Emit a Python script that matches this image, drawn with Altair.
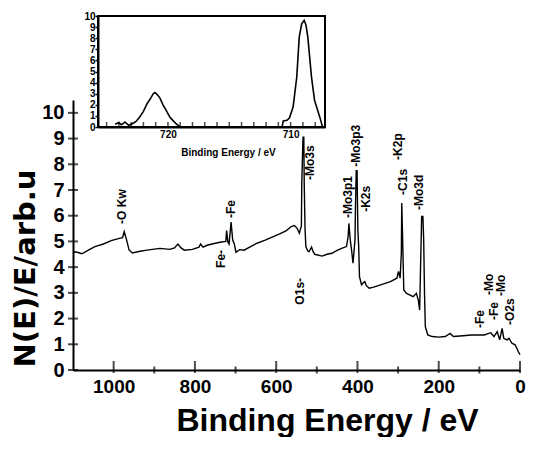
import altair as alt
import pandas as pd

# ---------------- data ----------------
spec_x = [1100, 1094, 1078, 1060, 1046, 1025, 1006, 986, 978, 974, 968, 962, 954, 935, 918, 900, 886, 862, 850, 842,
          834, 826, 806, 790, 786, 780, 770, 750, 735, 724, 722, 719, 716, 711, 707, 703, 699, 690, 679, 663,
          647, 627, 607, 590, 575, 563, 555, 548, 543, 538, 537, 534, 532, 531, 529, 527, 522, 519, 513, 509,
          505, 487, 475, 463, 450, 439, 427, 423, 421, 418, 414, 411, 408, 406, 405, 403, 401, 399, 397, 395,
          390, 385, 382, 378, 371, 360, 343, 330, 319, 303, 299, 295, 292, 291, 288, 286, 279, 263, 255, 250,
          247, 244, 242, 239, 237, 235, 233, 227, 216, 200, 184, 172, 164, 140, 120, 88, 72, 64, 56, 50,
          44, 40, 32, 27, 20, 12, 4, 0]
spec_y = [4.55, 4.6, 4.52, 4.68, 4.8, 4.9, 5.03, 5.12, 5.15, 5.38, 5.05, 4.67, 4.55, 4.62, 4.66, 4.7, 4.73, 4.69, 4.75, 4.9,
          4.75, 4.66, 4.69, 4.78, 4.9, 4.78, 4.85, 4.93, 4.98, 5.0, 5.42, 4.98, 4.9, 5.75, 5.05, 4.9, 4.58, 4.68, 4.66, 4.8,
          4.93, 5.05, 5.19, 5.3, 5.42, 5.58, 5.62, 5.5, 5.32, 5.6, 7.26, 9.05, 9.05, 7.26, 5.5, 4.8, 4.62, 4.6, 4.78, 4.6,
          4.5, 4.43, 4.5, 4.54, 4.65, 4.73, 4.8, 5.19, 5.7, 5.1, 4.6, 4.15, 4.7, 5.06, 6.23, 7.75, 7.75, 5.45, 4.8, 3.63,
          3.31, 3.4, 3.44, 3.28, 3.18, 3.22, 3.31, 3.38, 3.44, 3.57, 3.83, 3.57, 4.54, 6.49, 4.54, 3.11, 2.98, 2.85, 2.98, 2.7,
          2.33, 4.5, 5.97, 5.97, 5.06, 3.0, 1.69, 1.36, 1.3, 1.28, 1.3, 1.42, 1.3, 1.33, 1.36, 1.36, 1.45, 1.3, 1.49, 1.17,
          1.62, 1.23, 1.17, 1.23, 1.04, 0.98, 0.71, 0.6]

inset_x = [724.3, 724.0, 723.8, 723.5, 723.2, 722.9, 722.6, 722.3, 722.0, 721.7, 721.4, 721.2, 721.06, 720.85, 720.65,
           720.4, 720.1, 719.85, 719.6, 719.3, 719.0, 718.5, 711.0, 710.7, 710.6, 710.3, 710.1, 709.8, 709.5, 709.3,
           709.1, 708.9, 708.75, 708.6, 708.45, 708.3, 708.05, 707.8, 707.6, 707.4]
inset_y = [0.25, 0.4, 0.2, 0.45, 0.15, 0.3, 0.5, 0.9, 1.4, 2.1, 2.6, 3.0, 3.1, 2.9, 2.6,
           2.0, 1.4, 0.9, 0.6, 0.25, 0.0, 0.0, 0.0, 0.0, 0.55, 0.6, 0.8, 1.8, 4.5, 8.1,
           9.3, 9.6, 9.2, 8.1, 6.3, 4.5, 2.4, 1.5, 0.8, 0.0]

up_text = ["-O Kw", "-Fe", "-Mo3s", "-Mo3p1", "-Mo3p3", "-K2s", "-K2p", "-C1s", "-Mo3d",
           "-Fe", "-Mo", "-Fe", "-Mo", "-O2s"]
up_x = [980, 710, 517, 424, 404, 378, 301, 289, 248, 99, 77, 63, 46, 24]
up_y = [5.68, 5.91, 7.39, 5.91, 7.9, 6.15, 8.17, 6.81, 6.22, 1.63, 2.92, 1.94, 2.88, 1.75]
down_text = ["Fe-", "O1s-"]
down_x = [737, 542]
down_y = [4.67, 3.58]

y_ticks = list(range(0, 11))
x_major = [1000, 800, 600, 400, 200, 0]
x_minor = [900, 700, 500, 300, 100]
main_x_domain = [0, 1100]
main_y_domain = [0, 10.5]
inset_x_domain = [707.2, 725.7]
inset_y_domain = [0, 10]
inset_labels = [720, 710]
inset_ticks = list(range(708, 726))

# ---------------- frames ----------------
main_df = pd.DataFrame({"be": spec_x, "n": spec_y, "i": range(len(spec_x))})
inset_df = pd.DataFrame({"be": inset_x, "n": inset_y, "i": range(len(inset_x))})
up_df = pd.DataFrame({"t": up_text, "be": up_x, "n": up_y})
down_df = pd.DataFrame({"t": down_text, "be": down_x, "n": down_y})
xmaj_df = pd.DataFrame({"be": x_major})
xmin_df = pd.DataFrame({"be": x_minor})
yt_df = pd.DataFrame({"n": y_ticks})
it_df = pd.DataFrame({"be": inset_ticks})
frame_df = pd.DataFrame({"be": [inset_x_domain[1]], "b": [inset_x_domain[0]],
                         "n": [inset_y_domain[0]], "d": [inset_y_domain[1]]})

FONT = "Liberation Sans"
X_MAIN = alt.Scale(domain=main_x_domain, reverse=True, nice=False, zero=False)
Y_MAIN = alt.Scale(domain=main_y_domain, range=[354, 84], nice=False, zero=False)
X_INS = alt.Scale(domain=inset_x_domain, range=[252, 25], nice=False, zero=False)
Y_INS = alt.Scale(domain=inset_y_domain, range=[111, 0], nice=False, zero=False)

AX_X_MAIN = alt.Axis(
    values=x_major, format="d", ticks=False, grid=False, labelFontSize=19, labelFont=FONT,
    labelFontWeight="bold", labelPadding=7, labelFlush=False, labelOverlap=False, labelColor="black",
    domainColor="black", domainWidth=2,
    title="Binding Energy / eV", titleFont=FONT, titleFontSize=32, titleFontWeight="bold",
    titleColor="black", titleX=254, titleY=60, titleAlign="center", titleBaseline="alphabetic")
AX_Y_MAIN = alt.Axis(
    values=y_ticks, format="d", ticks=False, grid=False, labelFontSize=20, labelFont=FONT,
    labelFontWeight="bold", labelPadding=9, labelOverlap=False, labelColor="black",
    domainColor="black", domainWidth=2,
    title="N(E)/E/arb.u", titleFont="DejaVu Sans", titleFontSize=29, titleFontWeight="bold",
    titleColor="black", titleX=-48, titleY=252, titleAngle=270, titleAlign="center",
    titleBaseline="middle")
AX_X_INS = alt.Axis(
    orient="bottom", offset=-243, values=inset_labels, format="d", ticks=False, grid=False,
    labelFontSize=10, labelFont=FONT, labelFontWeight="bold", labelPadding=2, labelFlush=False,
    labelOverlap=False, labelColor="black", domainColor="black", domainWidth=2,
    title="Binding Energy / eV", titleFont=FONT, titleFontSize=10, titleFontWeight="bold",
    titleColor="black", titleX=155, titleY=25, titleAlign="center", titleBaseline="middle")
AX_Y_INS = alt.Axis(
    orient="left", offset=-25, values=y_ticks, format="d", tickSize=3, tickWidth=1.5,
    tickColor="black", grid=False, labelFontSize=10, labelFont=FONT, labelFontWeight="bold",
    labelPadding=0, labelOverlap=False, labelColor="black", domainColor="black", domainWidth=2,
    title="")

line = alt.Chart(main_df).mark_line(color="black", strokeWidth=1.4).encode(
    x=alt.X("be:Q", scale=X_MAIN, axis=AX_X_MAIN),
    y=alt.Y("n:Q", scale=Y_MAIN, axis=AX_Y_MAIN),
    order=alt.Order("i:Q"),
)

up_labels = alt.Chart(up_df).mark_text(angle=270, align="left", baseline="middle", font=FONT,
                                       fontWeight="bold", fontSize=12, color="black").encode(
    x=alt.X("be:Q", axis=AX_X_MAIN), y=alt.Y("n:Q", axis=AX_Y_MAIN), text="t:N")
down_labels = alt.Chart(down_df).mark_text(angle=270, align="right", baseline="middle", font=FONT,
                                           fontWeight="bold", fontSize=12, color="black").encode(
    x=alt.X("be:Q", axis=AX_X_MAIN), y=alt.Y("n:Q", axis=AX_Y_MAIN), text="t:N")

xmaj = alt.Chart(xmaj_df).mark_tick(orient="vertical", size=12, thickness=2, color="black", yOffset=-3).encode(
    x=alt.X("be:Q", axis=AX_X_MAIN), y=alt.YDatum(0, axis=AX_Y_MAIN))
xmin = alt.Chart(xmin_df).mark_tick(orient="vertical", size=7, thickness=2, color="black").encode(
    x=alt.X("be:Q", axis=AX_X_MAIN), y=alt.YDatum(0, axis=AX_Y_MAIN))
yt = alt.Chart(yt_df).mark_tick(orient="horizontal", size=10, thickness=2, color="black").encode(
    x=alt.XDatum(main_x_domain[1], axis=AX_X_MAIN), y=alt.Y("n:Q", axis=AX_Y_MAIN))

main = alt.layer(line, up_labels, down_labels, xmaj, xmin, yt)

iline = alt.Chart(inset_df).mark_line(color="black", strokeWidth=1.6).encode(
    x=alt.X("be:Q", scale=X_INS, axis=AX_X_INS),
    y=alt.Y("n:Q", scale=Y_INS, axis=AX_Y_INS),
    order=alt.Order("i:Q"),
)
iframe = alt.Chart(frame_df).mark_rect(fillOpacity=0, stroke="black", strokeWidth=2).encode(
    x=alt.X("be:Q", axis=AX_X_INS), x2="b:Q", y=alt.Y("n:Q", axis=AX_Y_INS), y2="d:Q")
iticks = alt.Chart(it_df).mark_tick(orient="vertical", size=6, thickness=1.5, color="black", yOffset=-2).encode(
    x=alt.X("be:Q", axis=AX_X_INS), y=alt.YDatum(0, axis=AX_Y_INS))

inset = alt.layer(iline, iframe, iticks)

chart = alt.layer(main, inset).resolve_scale(x="independent", y="independent").properties(
    width=447, height=354,
    autosize=alt.AutoSizeParams(type="none"),
    padding={"left": 65, "top": 8, "right": 9, "bottom": 67},
    background="white",
).configure_view(strokeWidth=0)

chart.save("out.html", embed_options={"renderer": "svg", "actions": False})
